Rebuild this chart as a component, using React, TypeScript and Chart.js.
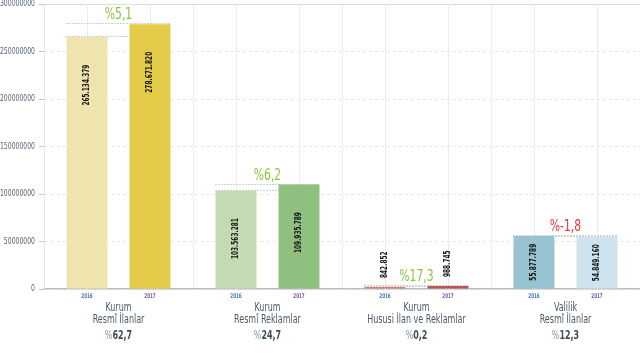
import React, { useEffect, useRef } from "react";
import { Chart, registerables } from "chart.js";

Chart.register(...registerables);

const categories = [
  ["Kurum", "Resmî İlanlar"],
  ["Kurum", "Resmî Reklamlar"],
  ["Kurum", "Hususi İlan ve Reklamlar"],
  ["Valilik", "Resmî İlanlar"],
];
const yearLabels = ["2016", "2017"];
const values2016 = [265134379, 103563281, 842852, 55877789];
const values2017 = [278671820, 109935789, 988745, 54849160];
const changeLabels = ["%5,1", "%6,2", "%17,3", "%-1,8"];
const shareLabels = ["62,7", "24,7", "0,2", "12,3"];
const yTicks = [0, 50000000, 100000000, 150000000, 200000000, 250000000, 300000000];

const colors2016 = ["#efe4ad", "#c3dbb4", "#e07a76", "#97c3d3"];
const colors2017 = ["#e3cb48", "#90c07f", "#c0504d", "#cde4ef"];
const yearColors = ["#4a78b0", "#7a5a9c"];

const FONT = "'DejaVu Sans Condensed', 'DejaVu Sans', sans-serif";

const fmt = (v: number) => String(v).replace(/\B(?=(\d{3})+(?!\d))/g, ".");

// draw horizontally-condensed text; returns drawn width
function text(ctx: any, s: string, x: number, y: number, align: string, sx: number) {
  const w = ctx.measureText(s).width * sx;
  let left = x;
  if (align === "center") left = x - w / 2;
  else if (align === "right") left = x - w;
  ctx.save();
  ctx.translate(left, y);
  ctx.scale(sx, 1);
  ctx.textAlign = "left";
  ctx.fillText(s, 0, 0);
  ctx.restore();
  return w;
}

const overlay = {
  id: "overlay",
  beforeDatasetsDraw(chart: any) {
    const { ctx, chartArea, scales } = chart;
    const m0 = chart.getDatasetMeta(0);
    const m1 = chart.getDatasetMeta(1);
    ctx.save();
    // top solid grid line
    ctx.strokeStyle = "#dcdcdc";
    ctx.lineWidth = 1;
    ctx.beginPath();
    ctx.moveTo(chartArea.left, Math.round(chartArea.top) + 0.5);
    ctx.lineTo(chartArea.right, Math.round(chartArea.top) + 0.5);
    ctx.stroke();
    // vertical lines at bar centres
    ctx.strokeStyle = "#ececec";
    [m0, m1].forEach((m: any) => {
      m.data.forEach((bar: any) => {
        ctx.beginPath();
        ctx.moveTo(Math.round(bar.x) + 0.5, chartArea.top);
        ctx.lineTo(Math.round(bar.x) + 0.5, chartArea.bottom);
        ctx.stroke();
      });
    });
    // dotted comparison lines
    ctx.strokeStyle = "#98a2ad";
    ctx.setLineDash([1, 2]);
    m0.data.forEach((b0: any, i: number) => {
      const b1 = m1.data[i];
      const x0 = b0.x - b0.width / 2;
      const x1 = b1.x + b1.width / 2;
      [b0.y, b1.y].forEach((yy: number) => {
        ctx.beginPath();
        ctx.moveTo(x0, Math.round(yy) - 0.5);
        ctx.lineTo(x1, Math.round(yy) - 0.5);
        ctx.stroke();
      });
    });
    ctx.setLineDash([]);
    // y tick labels
    ctx.font = `8.5px ${FONT}`;
    ctx.fillStyle = "#566575";
    ctx.textBaseline = "middle";
    yTicks.forEach((v) => {
      const y = scales.y.getPixelForValue(v);
      text(ctx, String(v), scales.y.right - 9, y, "right", 0.8);
    });
    ctx.restore();
  },
  afterDatasetsDraw(chart: any) {
    const { ctx, chartArea, scales } = chart;
    const m0 = chart.getDatasetMeta(0);
    const m1 = chart.getDatasetMeta(1);
    ctx.save();
    // value labels
    ctx.font = `bold 9px ${FONT}`;
    ctx.fillStyle = "#111111";
    const vsx = 0.72;
    [m0, m1].forEach((m: any, di: number) => {
      const vals = di === 0 ? values2016 : values2017;
      m.data.forEach((bar: any, i: number) => {
        const s = fmt(vals[i]);
        const tw = ctx.measureText(s).width * vsx;
        const h = bar.base - bar.y;
        ctx.save();
        ctx.textBaseline = "middle";
        if (h > tw + 8) {
          const cy = bar.y + Math.min(h / 2, 48);
          ctx.translate(bar.x, cy);
          ctx.rotate(-Math.PI / 2);
          text(ctx, s, 0, 0, "center", vsx);
        } else {
          ctx.translate(bar.x, bar.y - 9);
          ctx.rotate(-Math.PI / 2);
          text(ctx, s, 0, 0, "left", vsx);
        }
        ctx.restore();
      });
    });
    // change labels
    ctx.font = `15px ${FONT}`;
    ctx.textBaseline = "alphabetic";
    m0.data.forEach((b0: any, i: number) => {
      const b1 = m1.data[i];
      const top = Math.min(b0.y, b1.y);
      const cx = scales.x.getPixelForValue(i);
      ctx.fillStyle = changeLabels[i].includes("-") ? "#e8353a" : "#8cc63e";
      text(ctx, changeLabels[i], cx, top - 5, "center", 0.8);
    });
    // year labels under bars
    ctx.font = `bold 6.5px ${FONT}`;
    ctx.textBaseline = "middle";
    [m0, m1].forEach((m: any, di: number) => {
      ctx.fillStyle = yearColors[di];
      m.data.forEach((bar: any) => {
        text(ctx, yearLabels[di], bar.x, chartArea.bottom + 7, "center", 0.7);
      });
    });
    // category names and shares
    const csx = 0.74;
    categories.forEach((lines, i) => {
      const cx = scales.x.getPixelForValue(i);
      ctx.font = `12px ${FONT}`;
      ctx.fillStyle = "#4b5968";
      text(ctx, lines[0], cx, chartArea.bottom + 19, "center", csx);
      text(ctx, lines[1], cx, chartArea.bottom + 31, "center", csx);
      ctx.font = `12px ${FONT}`;
      const pw = ctx.measureText("%").width * csx;
      ctx.font = `bold 12px ${FONT}`;
      const nw = ctx.measureText(shareLabels[i]).width * csx;
      const sx = cx - (pw + nw) / 2;
      ctx.font = `12px ${FONT}`;
      ctx.fillStyle = "#8795a3";
      text(ctx, "%", sx, chartArea.bottom + 47, "left", csx);
      ctx.font = `bold 12px ${FONT}`;
      ctx.fillStyle = "#3f4c5a";
      text(ctx, shareLabels[i], sx + pw, chartArea.bottom + 47, "left", csx);
    });
    ctx.restore();
  },
};

export default function App() {
  const ref = useRef<HTMLCanvasElement | null>(null);
  useEffect(() => {
    if (!ref.current) return;
    const chart = new Chart(ref.current, {
      type: "bar",
      data: {
        labels: categories.map((c) => c.join(" ")),
        datasets: [
          {
            label: yearLabels[0],
            data: values2016,
            backgroundColor: colors2016,
            minBarLength: 2,
            categoryPercentage: 0.846,
            barPercentage: 0.65,
          },
          {
            label: yearLabels[1],
            data: values2017,
            backgroundColor: colors2017,
            minBarLength: 3,
            categoryPercentage: 0.846,
            barPercentage: 0.65,
          },
        ],
      },
      options: {
        responsive: false,
        animation: false,
        layout: { padding: { top: 4, right: 0, bottom: 71, left: 0 } },
        plugins: {
          legend: { display: false },
          tooltip: { enabled: false },
        },
        scales: {
          x: {
            offset: true,
            ticks: { display: false },
            grid: { offset: true, color: "#eeeeee", drawTicks: false },
            border: { color: "#bdbdbd", width: 1.5 },
          },
          y: {
            min: 0,
            max: 300000000,
            afterBuildTicks: (scale: any) => {
              scale.ticks = yTicks.map((v) => ({ value: v }));
            },
            afterFit: (scale: any) => {
              scale.width = 44;
            },
            ticks: { display: false },
            grid: {
              color: (c: any) => (c.tick && c.tick.value === 300000000 ? "rgba(0,0,0,0)" : "#e6e6e6"),
              tickColor: "#c8c8c8",
              tickLength: 5,
              drawTicks: true,
            },
            border: { color: "#e6e6e6", dash: [3, 3] },
          },
        },
      },
      plugins: [overlay],
    });
    return () => chart.destroy();
  }, []);
  return (
    <div style={{ position: "absolute", left: 0, top: 0, width: 640, height: 360, background: "#fff" }}>
      <canvas ref={ref} width={640} height={360} />
    </div>
  );
}
